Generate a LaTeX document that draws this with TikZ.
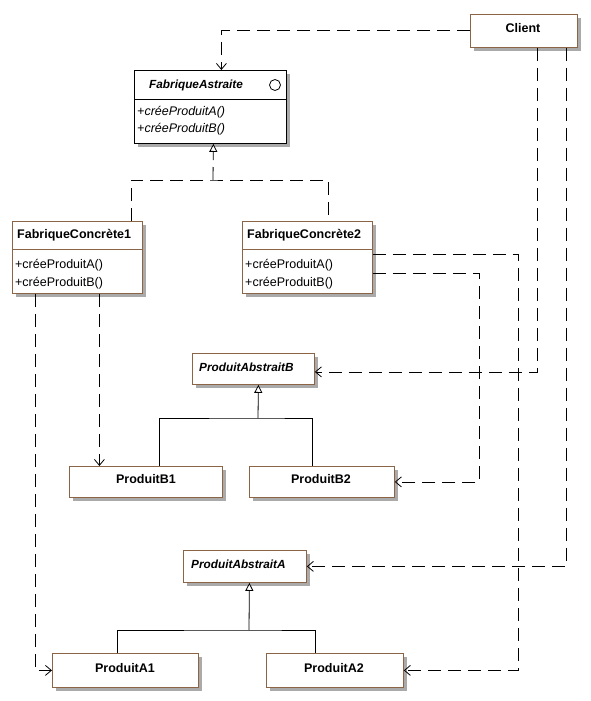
\documentclass[tikz,border=0pt]{standalone}
\usepackage{fontspec}
\setmainfont{Liberation Sans}
\usetikzlibrary{arrows.meta,shadows}
\definecolor{boxbrown}{RGB}{140,100,70}
\definecolor{shadowgray}{RGB}{170,170,170}
\tikzset{
  clsbox/.style={draw=boxbrown, fill=white, line width=0.8pt, inner sep=0pt, anchor=north west,
    drop shadow={shadow xshift=4pt, shadow yshift=-4pt, fill=shadowgray, opacity=1}},
  absbox/.style={clsbox, draw=black},
  nametxt/.style={font=\fontsize{12.5}{14}\selectfont\bfseries, inner sep=0pt},
  abstxt/.style={font=\fontsize{11.8}{14}\selectfont\bfseries\itshape, inner sep=0pt},
  methtxt/.style={font=\fontsize{12.5}{17.5}\selectfont, align=left, anchor=west, inner sep=0pt},
  imethtxt/.style={methtxt, font=\fontsize{12.5}{17}\selectfont\itshape},
  dep/.style={line width=0.8pt, dash pattern=on 13pt off 7pt, -{Straight Barb[length=6pt,width=10pt]}},
  real/.style={line width=0.8pt, dash pattern=on 13pt off 7pt},
  gen/.style={line width=0.8pt},
  gentip/.style={-{Triangle[open,length=8pt,width=8pt,fill=white]}},
}
\begin{document}
\begin{tikzpicture}[x=1pt,y=-1pt]
\useasboundingbox (0,0) rectangle (590,701);

% Client
\node[clsbox, minimum width=107pt, minimum height=33pt] (client) at (470,14) {};
\node[nametxt] (clienttxt) at (523,28) {Client};

% FabriqueAstraite
\node[absbox, minimum width=152pt, minimum height=73pt] (fa) at (134,70) {};
\draw[line width=0.8pt] (fa.west |- 0,99) -- (fa.east |- 0,99);
\node[abstxt, anchor=west] (fatxt) at (149,85) {FabriqueAstraite};
\node[draw, circle, line width=0.8pt, minimum size=11pt, inner sep=0pt] (facirc) at (275,85) {};
\node[imethtxt] (fameth) at (137,121) {+créeProduitA()\\+créeProduitB()};

% FabriqueConcrete1
\node[clsbox, minimum width=130pt, minimum height=72pt] (fc1) at (12,221) {};
\draw[boxbrown, line width=0.8pt] (fc1.west |- 0,249) -- (fc1.east |- 0,249);
\node[nametxt, anchor=west] (fc1txt) at (17,235) {FabriqueConcrète1};
\node[methtxt] (fc1meth) at (15,274) {+créeProduitA()\\+créeProduitB()};

% FabriqueConcrete2
\node[clsbox, minimum width=130pt, minimum height=72pt] (fc2) at (242,221) {};
\draw[boxbrown, line width=0.8pt] (fc2.west |- 0,249) -- (fc2.east |- 0,249);
\node[nametxt, anchor=west] (fc2txt) at (247,235) {FabriqueConcrète2};
\node[methtxt] (fc2meth) at (245,274) {+créeProduitA()\\+créeProduitB()};

% Products B
\node[clsbox, minimum width=122pt, minimum height=31pt] (pab) at (192,353) {};
\node[abstxt, anchor=west] (pabtxt) at (199,367) {ProduitAbstraitB};
\node[clsbox, minimum width=153pt, minimum height=31pt] (pb1) at (69,466) {};
\node[nametxt] (pb1txt) at (146,479) {ProduitB1};
\node[clsbox, minimum width=145pt, minimum height=31pt] (pb2) at (249,466) {};
\node[nametxt] (pb2txt) at (321,479) {ProduitB2};

% Products A
\node[clsbox, minimum width=123pt, minimum height=32pt] (paa) at (183,550) {};
\node[abstxt, anchor=west] (paatxt) at (191,564) {ProduitAbstraitA};
\node[clsbox, minimum width=146pt, minimum height=34pt] (pa1) at (52,653) {};
\node[nametxt] (pa1txt) at (125,668) {ProduitA1};
\node[clsbox, minimum width=137pt, minimum height=34pt] (pa2) at (266,653) {};
\node[nametxt] (pa2txt) at (334,668) {ProduitA2};

% realization FabriqueConcrete -> FabriqueAstraite
\coordinate (busF) at (213,180);
\draw[real] ([xshift=54pt]fc1.north) |- (busF) -| ([xshift=21pt]fc2.north);
\draw[real, gentip] (busF) -- ([xshift=3pt]fa.south);

% generalization B
\coordinate (busB) at (258,418);
\draw[gen] ([xshift=13.5pt]pb1.north) |- (busB) -| ([xshift=-9.5pt]pb2.north);
\draw[gen, gentip] (busB) -- ([xshift=5pt]pab.south);

% generalization A
\coordinate (busA) at (249,630);
\draw[gen] ([xshift=-8pt]pa1.north) |- (busA) -| ([xshift=-19.5pt]pa2.north);
\draw[gen, gentip] (busA) -- ([xshift=4.5pt]paa.south);

% Client dependencies
\draw[dep] (client.west) -| ([xshift=11pt]fa.north);
\draw[dep] ([xshift=13.5pt]client.south) |- ([yshift=-3pt]pab.east);
\draw[dep] ([xshift=42.5pt]client.south) |- (paa.east);

% FabriqueConcrete1 dependencies
\draw[dep] ([xshift=22pt]fc1.south) -- ([xshift=22pt]fc1.south |- pb1.north);
\draw[dep] ([xshift=-42pt]fc1.south) |- (pa1.west);

% FabriqueConcrete2 dependencies
\draw[dep] ([yshift=3pt]fc2.east) -- ++(146,0) |- (pa2.east);
\draw[dep] ([yshift=-16pt]fc2.east) -- ++(107,0) |- (pb2.east);
\end{tikzpicture}
\end{document}
